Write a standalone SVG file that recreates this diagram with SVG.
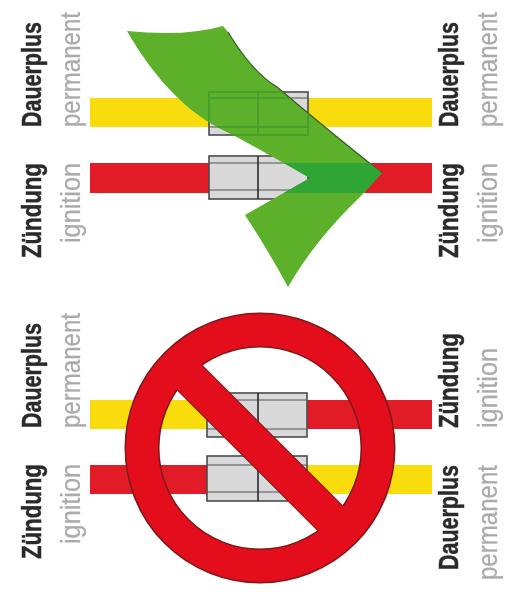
<svg xmlns="http://www.w3.org/2000/svg" width="508" height="595" viewBox="0 0 508 595">
<defs>
<style>
.t{font-family:"Liberation Sans",Arial,sans-serif;font-size:28px}
.b{font-weight:700;fill:#2b2b2b;stroke:#2b2b2b;stroke-width:0.5}
.g{fill:#ababab;stroke:#ababab;stroke-width:0.3}
.y{fill:#f9dc0c}
.r{fill:#e21b25}
.block{fill:#d9d9d9;stroke:#4a4a4a;stroke-width:1.6}
.div{stroke:#2a2a2a;stroke-width:1.6;fill:none}
.edge{stroke:#555;stroke-width:1.2;fill:none}
.gb{fill:none;stroke:#3f9a2c;stroke-width:1.4}
</style>
<filter id="soft" filterUnits="userSpaceOnUse" x="0" y="0" width="508" height="595"><feGaussianBlur stdDeviation="0.6"/></filter>
<clipPath id="arrowClip"><path d="M127 31Q185 37 223 26L228 32Q252 72 277 87Q330 132 382 173L360 197Q315 240 288 287Q268 250 245 215L310 178Q270 155 233 135C215 127 195 115 177 97C160 80 145 62 127 31Z"/></clipPath>
<clipPath id="innerClip"><circle cx="260" cy="448" r="110"/></clipPath>
</defs>
<rect width="508" height="595" fill="#fff"/>
<g filter="url(#soft)">
<g id="top-labels">
<text class="t b" transform="translate(41 127) rotate(-90) scale(.767 1)">Dauerplus</text>
<text class="t g" transform="translate(80 127) rotate(-90) scale(.859 1)">permanent</text>
<text class="t b" transform="translate(41 258) rotate(-90) scale(.793 1)">Zündung</text>
<text class="t g" transform="translate(80 243) rotate(-90) scale(.902 1)">ignition</text>
<text class="t b" transform="translate(458 127) rotate(-90) scale(.767 1)">Dauerplus</text>
<text class="t g" transform="translate(497 127) rotate(-90) scale(.859 1)">permanent</text>
<text class="t b" transform="translate(458 258) rotate(-90) scale(.793 1)">Zündung</text>
<text class="t g" transform="translate(497 243) rotate(-90) scale(.902 1)">ignition</text>
</g>
<g id="top-wires">
<rect class="y" x="90" y="98" width="342" height="29"/>
<rect class="r" x="90" y="163" width="342" height="30"/>
</g>
<g id="top-connector">
<rect class="block" x="209" y="92" width="99" height="43"/>
<rect class="block" x="209" y="156" width="99" height="43"/>
<path class="edge" d="M209 98H308M209 127H308M209 163H308M209 190H308"/>
<path class="div" d="M258 92V135M258 156V199"/>
</g>
<g id="green-arrow">
<path d="M127 31Q185 37 223 26L228 32Q252 72 277 87Q330 132 382 173L360 197Q315 240 288 287Q268 250 245 215L310 178Q270 155 233 135C215 127 195 115 177 97C160 80 145 62 127 31Z" fill="#5cb02a"/>
<path d="M228 32Q252 72 277 87Q330 132 382 173" fill="none" stroke="#3a5a22" stroke-width="1.2"/>
<g clip-path="url(#arrowClip)">
<rect x="90" y="163" width="342" height="30" fill="#2fa535"/>
<rect class="gb" x="209" y="92" width="99" height="43"/>
<path class="gb" d="M258 92V135M209 98H308M209 127H308"/>
</g>
</g>
<g id="bottom-labels">
<text class="t b" transform="translate(41 428) rotate(-90) scale(.767 1)">Dauerplus</text>
<text class="t g" transform="translate(80 428) rotate(-90) scale(.859 1)">permanent</text>
<text class="t b" transform="translate(41 559) rotate(-90) scale(.793 1)">Zündung</text>
<text class="t g" transform="translate(80 544) rotate(-90) scale(.902 1)">ignition</text>
<text class="t b" transform="translate(458 428) rotate(-90) scale(.793 1)">Zündung</text>
<text class="t g" transform="translate(497 428) rotate(-90) scale(.902 1)">ignition</text>
<text class="t b" transform="translate(458 570) rotate(-90) scale(.767 1)">Dauerplus</text>
<text class="t g" transform="translate(497 580) rotate(-90) scale(.859 1)">permanent</text>
</g>
<g id="bottom-wires">
<rect class="y" x="90" y="400" width="120" height="29"/>
<rect class="r" x="305" y="400" width="127" height="29"/>
<rect class="r" x="90" y="465" width="120" height="29"/>
<rect class="y" x="305" y="465" width="127" height="29"/>
</g>
<g id="bottom-connector">
<rect class="block" x="207" y="393" width="100" height="44"/>
<rect class="block" x="207" y="456" width="100" height="45"/>
<path class="edge" d="M207 400H307M207 429H307M207 465H307M207 492H307"/>
<path class="div" d="M258 393V437M258 456V501"/>
</g>
<g id="prohibition-sign">
<line x1="170" y1="358" x2="350" y2="538" stroke="#7a1a1a" stroke-width="36" clip-path="url(#innerClip)"/>
<circle cx="260" cy="448" r="118" fill="none" stroke="#7a1a1a" stroke-width="35"/>
<circle cx="260" cy="448" r="118" fill="none" stroke="#e30e1f" stroke-width="32"/>
<line x1="180" y1="368" x2="340" y2="528" stroke="#e30e1f" stroke-width="34"/>
</g>
</g>
</svg>
